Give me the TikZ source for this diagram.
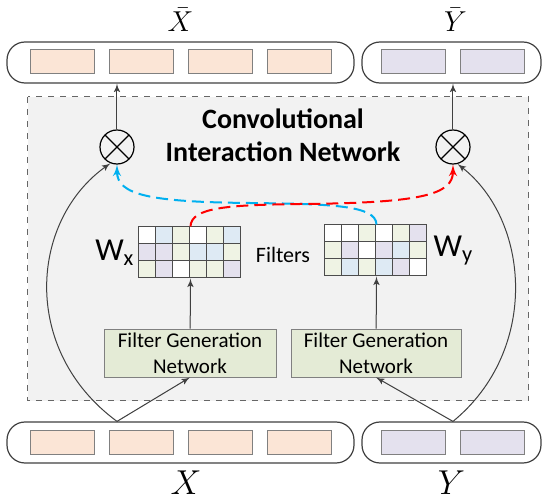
\documentclass[tikz,border=0pt]{standalone}
\usepackage{amsmath}
\usepackage{fontspec}
\setmainfont{Carlito}
\usetikzlibrary{arrows,positioning,calc}

\definecolor{peach}{HTML}{FBE5D6}
\definecolor{lilac}{HTML}{E4E1EE}
\definecolor{paleblue}{HTML}{DEEAF4}
\definecolor{palegreen}{HTML}{EFF3E4}
\definecolor{fgnfill}{HTML}{E4EBD6}
\definecolor{regionfill}{HTML}{F2F2F2}
\definecolor{arrowgray}{HTML}{404040}
\definecolor{dashblue}{HTML}{00B0F0}
\definecolor{dashred}{HTML}{FF0000}

\tikzset{
  bag/.style={draw=black!75, line width=0.6pt, rounded corners=9pt, fill=white, minimum height=20.5pt, inner sep=0pt},
  xcell/.style={draw=gray, fill=peach, minimum width=32pt, minimum height=12pt, inner sep=0pt},
  ycell/.style={xcell, fill=lilac},
  gcell/.style={draw=black!70, line width=0.5pt, minimum size=8.5pt, inner sep=0pt},
  fgn/.style={draw=gray, fill=fgnfill, minimum height=24pt, align=center, inner sep=1pt,
              font=\fontsize{10.5}{13}\selectfont},
  mult/.style={circle, draw, line width=0.6pt, minimum size=17pt, inner sep=0pt,
               path picture={\draw[line width=0.6pt] (path picture bounding box.north west) -- (path picture bounding box.south east)
                                                  (path picture bounding box.north east) -- (path picture bounding box.south west);}},
  flow/.style={->, draw=arrowgray, fill=arrowgray, line width=0.5pt},
  bluedash/.style={->, draw=dashblue, line width=1pt, dash pattern=on 6pt off 3pt},
  reddash/.style={->, draw=dashred, line width=1pt, dash pattern=on 6pt off 3pt}
}

\begin{document}
\begin{tikzpicture}[x=0.5pt, y=-0.5pt, >=latex']
  \useasboundingbox (0,0) rectangle (543,503);

  \draw[dashed, draw=black!60, fill=regionfill, line width=0.5pt] (28,97) rectangle (529,401);

  \node[bag, minimum width=173.5pt] (xbar) at (180.5,62.5) {};
  \node[bag, minimum width=89.5pt] (ybar) at (451.5,62.5) {};
  \node[bag, minimum width=173.5pt] (xin) at (180.5,442.5) {};
  \node[bag, minimum width=89.5pt] (yin) at (451.5,442.5) {};

  \foreach \k in {1,...,4} {
    \node[xcell] (xb\k) at ({62.5+79*(\k-1)},61.5) {};
    \node[xcell] (xi\k) at ({62.5+79*(\k-1)},442) {};
  }
  \foreach \k in {1,2} {
    \node[ycell] (yb\k) at ({413.5+79*(\k-1)},61.5) {};
    \node[ycell] (yi\k) at ({413.5+79*(\k-1)},442) {};
  }

  \node[font=\fontsize{14}{16}\selectfont, above=1.5pt of xbar] (xbarlab) {$\bar{X}$};
  \node[font=\fontsize{14}{16}\selectfont, above=1.5pt of ybar, xshift=2pt] (ybarlab) {$\bar{Y}$};
  \node[font=\fontsize{18.3}{20}\selectfont, below=0pt of xin, xshift=2.75pt] (xlab) {$X$};
  \node[font=\fontsize{18.3}{20}\selectfont, below=0pt of yin] (ylab) {$Y$};

  \node[mult] (mx) at (117,147) {};
  \node[mult] (my) at (453,147) {};

  \node[font=\bfseries\fontsize{14}{16.5}\selectfont, align=center] (title) at (283,135) {Convolutional\\Interaction Network};

  \foreach \col [count=\i from 0] in {white,paleblue,palegreen,white,palegreen,paleblue,
                                      lilac,lilac,palegreen,paleblue,paleblue,palegreen,
                                      palegreen,lilac,white,palegreen,palegreen,lilac} {
    \pgfmathtruncatemacro\gr{div(\i,6)+1}
    \pgfmathtruncatemacro\gc{mod(\i,6)+1}
    \node[gcell, fill=\col] (gx-\gr-\gc) at ({139+17*(\gc-0.5)},{227+17*(\gr-0.5)}) {};
  }
  \foreach \col [count=\i from 0] in {white,white,palegreen,white,palegreen,lilac,
                                      palegreen,lilac,white,lilac,paleblue,palegreen,
                                      palegreen,paleblue,palegreen,paleblue,lilac,white} {
    \pgfmathtruncatemacro\gr{div(\i,6)+1}
    \pgfmathtruncatemacro\gc{mod(\i,6)+1}
    \node[gcell, fill=\col] (gy-\gr-\gc) at ({325+17*(\gc-0.5)},{225+17*(\gr-0.5)}) {};
  }

  \node[font=\fontsize{16}{18}\selectfont, left=-1.5pt of gx-2-1] (wx) {W$_{\text{x}}$};
  \node[font=\fontsize{16}{18}\selectfont, right=-0.5pt of gy-2-6] (wy) {W$_{\text{y}}$};
  \node[font=\fontsize{11}{13}\selectfont] (filters) at (283,255) {Filters};

  \node[fgn, minimum width=86pt] (fgnx) at (190,353) {Filter Generation\\Network};
  \node[fgn, minimum width=85pt] (fgny) at (376,353) {Filter Generation\\Network};

  \coordinate (xsrc) at (mx |- xin.north);
  \coordinate (ysrc) at (my |- yin.north);

  \draw[flow] (mx) -- (mx |- xbar.south);
  \draw[flow] (my) -- (my |- ybar.south);
  \draw[flow] (fgnx) -- (gx-3-3.south east);
  \draw[flow] (fgny) -- (gy-3-3.south east);
  \draw[flow] (xsrc) -- (fgnx.south);
  \draw[flow] (ysrc) -- (fgny.south);
  \draw[flow, fill=none] (xsrc) .. controls (20,350) and (30,220) .. (mx.-112);
  \draw[flow, fill=none] (ysrc) .. controls (540,350) and (530,220) .. (my.-75);

  \draw[bluedash] (gy-1-3.north east) .. controls (376,205) and (330,204) .. (250,203)
                  .. controls (150,202) and (117,195) .. (mx.south);
  \draw[reddash] (gx-1-3.north east) .. controls (191,207) and (230,205) .. (300,204)
                 .. controls (420,203) and (453,195) .. (my.south);
\end{tikzpicture}
\end{document}
